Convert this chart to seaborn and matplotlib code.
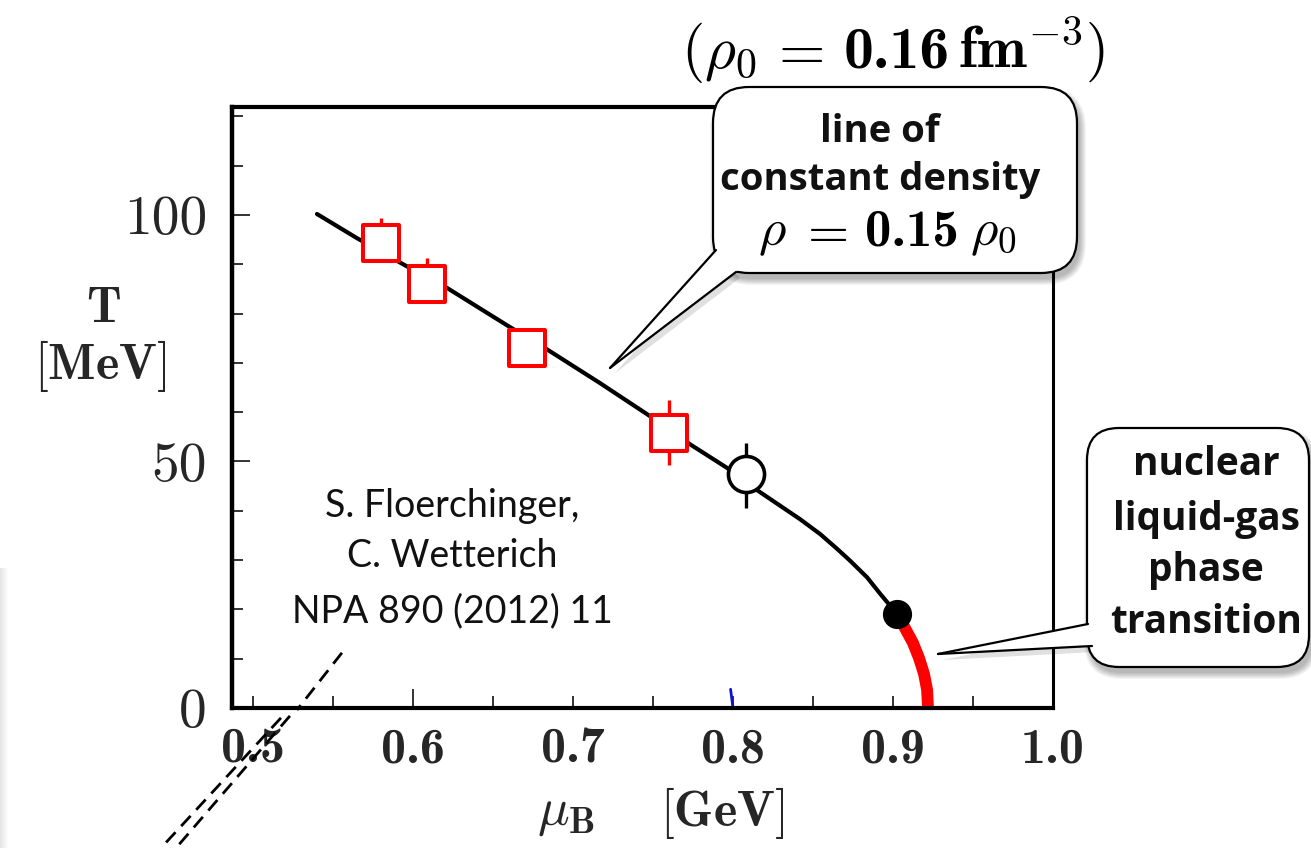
import numpy as np
import pandas as pd
import matplotlib
matplotlib.use("Agg")
import matplotlib.pyplot as plt
import seaborn as sns
from matplotlib.patches import FancyBboxPatch, Polygon, Rectangle
from matplotlib.lines import Line2D
from matplotlib.offsetbox import TextArea, HPacker, AnnotationBbox, DrawingArea
import matplotlib.transforms as mtransforms

# ---------------- data ----------------
curve_mu = [0.540, 0.565, 0.5944, 0.6213, 0.6594, 0.6825, 0.7169, 0.7500, 0.7731,
            0.7963, 0.8150, 0.8419, 0.8544, 0.8650, 0.8731, 0.8838, 0.8919, 0.9025]
curve_T = [100.2, 95.3, 89.9, 85.2, 77.5, 73.0, 65.9, 58.8, 53.5,
           48.7, 44.2, 38.3, 35.3, 32.3, 29.9, 26.5, 23.2, 19.1]

lg_mu = [0.9025, 0.9075, 0.9125, 0.9163, 0.9194, 0.9213, 0.9219]
lg_T = [19.1, 16.2, 13.2, 10.1, 6.9, 3.7, 0.0]

sq_mu = [0.580, 0.609, 0.671, 0.760]
sq_T = [94.3, 86.0, 73.1, 55.7]
sq_err_up = [5.1, 5.3, 2.5, 6.8]
sq_err_lo = [3.0, 3.0, 2.5, 6.4]

oc_mu = [0.808]
oc_T = [47.4]
oc_err_up = [6.4]
oc_err_lo = [6.8]

cep_mu = [0.9025]
cep_T = [19.1]

blue_mu = [0.7985, 0.8000]
blue_T = [3.8, 0.0]

dash_in_mu = [0.5556, 0.5275]
dash_in_T = [11.2, -0.4]
dash_a_mu = [0.5231, 0.4519]
dash_a_T = [-1.6, -28.4]
dash_b_mu = [0.5175, 0.4425]
dash_b_T = [-2.0, -28.4]

x_ticks = [0.5, 0.6, 0.7, 0.8, 0.9, 1.0]
x_ticklabels = ["0.5", "0.6", "0.7", "0.8", "0.9", "1.0"]
x_minor = [0.55, 0.65, 0.75, 0.85, 0.95]
y_ticks = [0, 50, 100]
y_ticklabels = ["0", "50", "100"]
y_minor = [10, 20, 30, 40, 60, 70, 80, 90, 110, 120]

# rich-text pieces: strings starting with "$" are math, numbers are gaps (px),
# other strings are bold Computer Modern
title_parts = [r"$(\rho_0$", 9, r"$=$", 14, "0.16", 6, r"$\mathbf{fm}^{-3})$"]
box1_parts = [r"$\rho$", 8, r"$=$", 13, "0.15", 8, r"$\rho_0$"]
cite_lines = ["S. Floerchinger,", "C. Wetterich", "NPA 890 (2012) 11"]
box1_lines = ["line of", "constant density"]
box2_lines = ["nuclear", "liquid-gas", "phase", "transition"]

# ---------------- style ----------------
W, H = 1311, 848
sns.set_theme(style="white")
plt.rcParams["mathtext.fontset"] = "cm"
plt.rcParams["font.family"] = ["Lato", "DejaVu Sans"]
plt.rcParams["axes.unicode_minus"] = False

fig = plt.figure(figsize=(W / 100, H / 100), dpi=100)
fig.patch.set_facecolor("white")
ax_l, ax_r, ax_t, ax_b = 232, 1053, 107, 708
ax = fig.add_axes([ax_l / W, 1 - ax_b / H, (ax_r - ax_l) / W, (ax_b - ax_t) / H])
ax.set_facecolor("white")

PX = mtransforms.Affine2D().scale(1 / W, -1 / H).translate(0, 1) + fig.transFigure

# ---------------- curves ----------------
sns.lineplot(x=curve_mu, y=curve_T, sort=False, estimator=None, color="black",
             lw=3.0, ax=ax, zorder=2)
sns.lineplot(x=lg_mu, y=lg_T, sort=False, estimator=None, color="#ff0000",
             lw=8.5, ax=ax, zorder=2, solid_capstyle="butt")
sns.lineplot(x=blue_mu, y=blue_T, sort=False, estimator=None, color="#1010d0",
             lw=2.0, ax=ax, zorder=2)

ax.errorbar(sq_mu, sq_T, yerr=[sq_err_lo, sq_err_up], fmt="none", ecolor="red",
            elinewidth=2.4, capsize=0, zorder=3)
ax.errorbar(oc_mu, oc_T, yerr=[oc_err_lo, oc_err_up], fmt="none", ecolor="black",
            elinewidth=2.4, capsize=0, zorder=3)

sns.scatterplot(x=sq_mu, y=sq_T, marker="s", s=26 ** 2, color="white",
                edgecolor="red", linewidth=2.9, ax=ax, zorder=5)
sns.scatterplot(x=oc_mu, y=oc_T, marker="o", s=26 ** 2, color="white",
                edgecolor="black", linewidth=2.6, ax=ax, zorder=5)
sns.scatterplot(x=cep_mu, y=cep_T, marker="o", s=20 ** 2, color="black",
                edgecolor="black", linewidth=1, ax=ax, zorder=6)

for xs, ys in [(dash_in_mu, dash_in_T), (dash_a_mu, dash_a_T), (dash_b_mu, dash_b_T)]:
    ax.add_line(Line2D(xs, ys, color="black", lw=2.0, dashes=(5, 3),
                       clip_on=False, zorder=4))

# ---------------- axes ----------------
ax.set_xlim(0.4869, 1.0)
ax.set_ylim(0, 121.9)
ax.set_xticks(x_ticks, labels=x_ticklabels, fontfamily="cmb10", fontsize=36)
ax.set_xticks(x_minor, minor=True)
ax.set_yticks(y_ticks, labels=y_ticklabels, fontfamily="cmr10", fontsize=40)
ax.set_yticks(y_minor, minor=True)
ax.tick_params(axis="x", which="major", direction="in", length=8.4, width=1.4,
               color="#333333", pad=14, bottom=True, top=False)
ax.tick_params(axis="x", which="minor", direction="in", length=8.4, width=1.4,
               color="#333333", bottom=True, top=False)
ax.tick_params(axis="y", which="major", direction="in", length=13, width=1.4,
               color="#333333", pad=18, left=True, right=False)
ax.tick_params(axis="y", which="minor", direction="in", length=8, width=1.4,
               color="#333333", left=True, right=False)
for t in ax.xaxis.get_major_ticks():
    if abs(t.get_loc() - 0.6) < 1e-6:
        t.tick1line.set_markersize(13.7)
for side, lw in [("left", 3.2), ("bottom", 3.0), ("top", 3.0), ("right", 2.2)]:
    ax.spines[side].set_linewidth(lw)
    ax.spines[side].set_color("black")
ax.set_xlabel("")
ax.set_ylabel("")

fig.text(103 / W, 1 - 308 / H, r"$\mathbf{T}$", fontsize=36, ha="center", va="center")
fig.text(100 / W, 1 - 366 / H, r"$[\mathbf{MeV}]$", fontsize=36, ha="center", va="center")
fig.text(566 / W, 1 - 815 / H, r"$\mu_{\mathbf{B}}$", fontsize=38, ha="center", va="center")
fig.text(722 / W, 1 - 813 / H, r"$[\mathbf{GeV}]$", fontsize=36, ha="center", va="center")


def rich(parts, x, y, size, zorder):
    areas = []
    for s in parts:
        if isinstance(s, (int, float)):
            if s > 0:
                areas.append(DrawingArea(s, 1, 0, 0))
        elif s.startswith("$"):
            areas.append(TextArea(s, textprops=dict(fontsize=size, color="black")))
        else:
            areas.append(TextArea(s, textprops=dict(fontsize=size, color="black",
                                                    fontfamily="cmb10")))
    pk = HPacker(children=areas, align="baseline", pad=0, sep=0)
    ab = AnnotationBbox(pk, (x / W, 1 - y / H), xycoords="figure fraction",
                        frameon=False, box_alignment=(0.5, 0.5), pad=0)
    ab.set_zorder(zorder)
    fig.add_artist(ab)


rich(title_parts, 893, 50, 43, 5)

for txt, yb in zip(cite_lines, [517, 567, 622]):
    fig.text(452 / W, 1 - yb / H, txt, fontsize=27, ha="center", va="baseline",
             color="#111111")

# ---------------- callouts ----------------
def shadow_box(x0, y0, x1, y1, r, dx, dy):
    for i in range(7):
        g = 6 - i
        p = FancyBboxPatch((x0 + dx - g, y0 + dy - g), (x1 - x0) + 2 * g, (y1 - y0) + 2 * g,
                           boxstyle=f"round,pad=0,rounding_size={r + g}",
                           transform=PX, facecolor="black", edgecolor="none",
                           alpha=0.045, zorder=10)
        fig.add_artist(p)


def callout(box, r, base1, tip, base2, inner):
    x0, y0, x1, y1 = box
    sh = Polygon([(base1[0] + 4, base1[1] + 6), (tip[0] + 4, tip[1] + 6),
                  (base2[0] + 4, base2[1] + 6)], closed=True, transform=PX,
                 facecolor="black", edgecolor="none", alpha=0.12, zorder=10)
    fig.add_artist(sh)
    shadow_box(x0, y0, x1, y1, r, 3, 6)
    b = FancyBboxPatch((x0, y0), x1 - x0, y1 - y0,
                       boxstyle=f"round,pad=0,rounding_size={r}",
                       transform=PX, facecolor="white", edgecolor="black",
                       linewidth=1.6, zorder=11)
    fig.add_artist(b)
    tail = Polygon([base1, tip, base2, inner], closed=True, transform=PX,
                   facecolor="white", edgecolor="none", zorder=12)
    fig.add_artist(tail)
    for p in (base1, base2):
        fig.add_artist(Line2D([p[0], tip[0]], [p[1], tip[1]], transform=PX,
                              color="black", lw=1.6, zorder=13))


callout((713, 87, 1077, 273), 36, (716, 250), (610, 368), (736, 272), (760, 240))
callout((1087, 428, 1309, 667), 32, (1088, 624), (938, 654), (1092, 646), (1110, 636))

for txt, yb in zip(box1_lines, [142, 190]):
    fig.text(880 / W, 1 - yb / H, txt, fontsize=27.5, fontweight="bold",
             fontfamily=["Open Sans", "DejaVu Sans"],
             ha="center", va="baseline", color="#111111", zorder=14)
rich(box1_parts, 887, 233, 38, 15)
for txt, yb in zip(box2_lines, [475, 530, 581, 633]):
    fig.text(1206 / W, 1 - yb / H, txt, fontsize=28, fontweight="bold",
             fontfamily=["Open Sans", "DejaVu Sans"],
             ha="center", va="baseline", color="#111111", zorder=14)

for i in range(8):
    fig.add_artist(Rectangle((i, 568), 1, 280, transform=PX, facecolor="black",
                             edgecolor="none", alpha=0.10 * (1 - i / 8), zorder=1))

fig.savefig("out.png", dpi=100, facecolor="white")
